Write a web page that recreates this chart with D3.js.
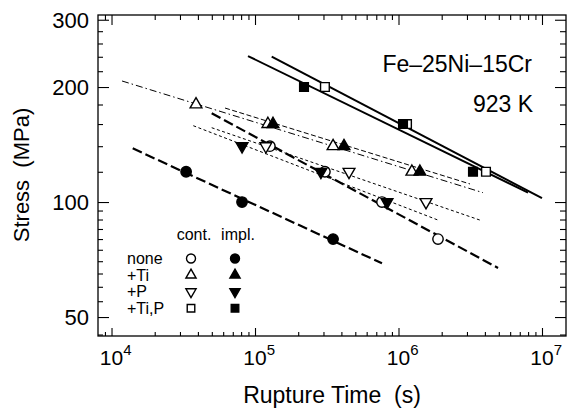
<!DOCTYPE html>
<html>
<head>
<meta charset="utf-8">
<script src="https://cdn.jsdelivr.net/npm/d3@7"></script>
<style>
    body { margin: 0; background: #fff; }
    text { font-family: "Liberation Sans", Arial, Helvetica, sans-serif; fill: #000; }
</style>
</head>
<body>
<svg id="chart" width="567" height="408"></svg>
<script>
// Rupture time vs stress, Fe-25Ni-15Cr at 923 K

// Axis ticks
const xMajorTicks = [1e4, 1e5, 1e6, 1e7];
const yMajorTicks = [50, 100, 200, 300];
const yMinorTicks = [45, 55, 60, 65, 70, 75, 80, 85, 90, 95, 120, 140, 160, 180, 220, 240, 260, 280];

// Data points [rupture time (s), stress (MPa)]
const noneCont = [[1.27e5, 140], [3.07e5, 120], [7.67e5, 100], [1.885e6, 80]];
const noneImpl = [[3.31e4, 120], [8.12e4, 100], [3.50e5, 80]];
const tiCont = [[3.88e4, 180], [1.23e5, 160], [3.50e5, 140], [1.24e6, 120]];
const tiImpl = [[1.335e5, 160], [4.17e5, 140], [1.41e6, 120]];
const pCont = [[1.19e5, 140], [4.52e5, 120], [1.555e6, 100]];
const pImpl = [[8.12e4, 140], [2.88e5, 120], [8.32e5, 100]];
const tipCont = [[3.07e5, 200], [1.146e6, 160], [4.07e6, 120]];
const tipImpl = [[2.195e5, 200], [1.075e6, 160], [3.305e6, 120]];

// Fitted lines [start, end]
const fitTipImpl = [[8.94e4, 241], [7.99e6, 105.8]];
const fitTipCont = [[1.307e5, 240.2], [1e7, 102.4]];
const fitTiCont = [[1.184e4, 207.4], [3.88e6, 105.8]];
const fitTiImpl = [[6.18e4, 176.2], [3.15e6, 111.5]];
const fitPImpl = [[3.715e4, 158.4], [1.885e6, 89.7]];
const fitPCont = [[4.99e4, 156.5], [3.82e6, 89.3]];
const fitNoneCont = [[4.99e4, 170.7], [4.94e6, 67.2]];
const fitNoneImpl = [[1.405e4, 138.2], [7.67e5, 69.1]];

// Legend
const legendRows = ["none", "+Ti", "+P", "+Ti,P"];
const legendCols = ["cont.", "impl."];

function createChart() {
    const left = 98, right = 566, top = 15, bottom = 336;

    const svg = d3.select("#chart");

    const x = d3.scaleLog().domain([8050, 1.47e7]).range([left, right]);
    const y = d3.scaleLog().domain([44.6, 308.7]).range([bottom, top]);

    // Cadre
    svg.append("rect")
        .attr("x", left).attr("y", top)
        .attr("width", right - left).attr("height", bottom - top)
        .attr("fill", "none").attr("stroke", "#000").attr("stroke-width", 1.3);

    const xMinor = x.ticks().filter(t => !xMajorTicks.includes(t));

    function addAxis(axis, transform) {
        const g = svg.append("g").attr("transform", transform).call(axis);
        g.select(".domain").remove();
        g.selectAll("line").attr("stroke", "#000").attr("stroke-width", 1.1);
        g.selectAll("text").remove();
    }

    // Ticks on all four sides, pointing inward
    addAxis(d3.axisTop(x).tickValues(xMinor).tickSize(4), `translate(0,${bottom})`);
    addAxis(d3.axisTop(x).tickValues(xMajorTicks).tickSize(8), `translate(0,${bottom})`);
    addAxis(d3.axisBottom(x).tickValues(xMinor).tickSize(5), `translate(0,${top})`);
    addAxis(d3.axisBottom(x).tickValues(xMajorTicks).tickSize(10), `translate(0,${top})`);
    addAxis(d3.axisRight(y).tickValues(yMinorTicks).tickSize(5), `translate(${left},0)`);
    addAxis(d3.axisRight(y).tickValues(yMajorTicks).tickSize(11), `translate(${left},0)`);
    addAxis(d3.axisLeft(y).tickValues(yMinorTicks).tickSize(6), `translate(${right},0)`);
    addAxis(d3.axisLeft(y).tickValues(yMajorTicks).tickSize(11), `translate(${right},0)`);

    // Tick labels
    svg.selectAll(".ylab")
        .data(yMajorTicks)
        .enter()
        .append("text")
        .attr("class", "ylab")
        .attr("x", left - 9)
        .attr("y", d => y(d))
        .attr("dy", "0.37em")
        .attr("text-anchor", "end")
        .style("font-size", "22px")
        .text(d => d);

    xMajorTicks.forEach(t => {
        const base = svg.append("text")
            .attr("x", x(t))
            .attr("y", 365)
            .attr("text-anchor", "middle")
            .style("font-size", "21px")
            .text("10");
        const w = base.node().getComputedTextLength();
        svg.append("text")
            .attr("x", x(t) + w / 2)
            .attr("y", 355)
            .style("font-size", "15px")
            .text(Math.round(Math.log10(t)));
    });

    // Axis titles
    svg.append("text")
        .attr("x", 332)
        .attr("y", 403)
        .attr("text-anchor", "middle")
        .style("font-size", "23px")
        .text("Rupture Time\u00A0\u00A0(s)");

    svg.append("text")
        .attr("transform", "translate(29,175) rotate(-90)")
        .attr("text-anchor", "middle")
        .style("font-size", "22px")
        .text("Stress\u00A0\u00A0(MPa)");

    // Annotations
    svg.append("text")
        .attr("x", 532).attr("y", 72)
        .attr("text-anchor", "end")
        .style("font-size", "23px")
        .text("Fe\u201325Ni\u201315Cr");

    svg.append("text")
        .attr("x", 533).attr("y", 112)
        .attr("text-anchor", "end")
        .style("font-size", "23px")
        .text("923 K");

    // Fitted lines
    const fits = [
        { pts: fitNoneImpl, w: 2.2, dash: "10,4" },
        { pts: fitNoneCont, w: 2.2, dash: "10,4" },
        { pts: fitPImpl, w: 1, dash: "3,2.5" },
        { pts: fitPCont, w: 1, dash: "3,2.5" },
        { pts: fitTiCont, w: 1, dash: "7,3,1.5,3" },
        { pts: fitTiImpl, w: 1, dash: "5,2.5" },
        { pts: fitTipImpl, w: 2, dash: null },
        { pts: fitTipCont, w: 2, dash: null }
    ];

    const line = d3.line().x(d => x(d[0])).y(d => y(d[1]));

    svg.selectAll(".fit")
        .data(fits)
        .enter()
        .append("path")
        .attr("class", "fit")
        .attr("d", d => line(d.pts))
        .attr("fill", "none")
        .attr("stroke", "#000")
        .attr("stroke-width", d => d.w)
        .attr("stroke-dasharray", d => d.dash);

    // Markers
    const shapes = {
        circle: d3.symbolCircle,
        up: d3.symbolTriangle,
        down: d3.symbolTriangle,
        square: d3.symbolSquare
    };
    const sizes = { circle: 85, up: 60, down: 60, square: 76 };

    function marker(g, shape, filled, scale) {
        g.append("path")
            .attr("d", d3.symbol().type(shapes[shape]).size(sizes[shape] * scale)())
            .attr("transform", shape === "down" ? "rotate(180)" : null)
            .attr("fill", filled ? "#000" : "#fff")
            .attr("stroke", "#000")
            .attr("stroke-width", 1.4);
    }

    const series = [
        { data: noneCont, shape: "circle", filled: false },
        { data: noneImpl, shape: "circle", filled: true },
        { data: tiCont, shape: "up", filled: false },
        { data: tiImpl, shape: "up", filled: true },
        { data: pCont, shape: "down", filled: false },
        { data: pImpl, shape: "down", filled: true },
        { data: tipCont, shape: "square", filled: false },
        { data: tipImpl, shape: "square", filled: true }
    ];

    series.forEach(s => {
        s.data.forEach(p => {
            const g = svg.append("g").attr("transform", `translate(${x(p[0])},${y(p[1])})`);
            marker(g, s.shape, s.filled, 1);
        });
    });

    // Legend
    const legend = svg.append("g").attr("class", "legend");
    const rowShapes = ["circle", "up", "down", "square"];
    const colX = [191, 235];

    legendCols.forEach((c, j) => {
        legend.append("text")
            .attr("x", colX[j] + 3)
            .attr("y", 240)
            .attr("text-anchor", "middle")
            .style("font-size", "16px")
            .text(c);
    });

    legendRows.forEach((r, i) => {
        const cy = 258.5 + i * 16.6;
        legend.append("text")
            .attr("x", 127)
            .attr("y", cy + 5.5)
            .style("font-size", "16px")
            .text(r);
        colX.forEach((cx, j) => {
            const g = legend.append("g").attr("transform", `translate(${cx},${cy})`);
            marker(g, rowShapes[i], j === 1, 0.75);
        });
    });
}

createChart();
</script>
</body>
</html>
